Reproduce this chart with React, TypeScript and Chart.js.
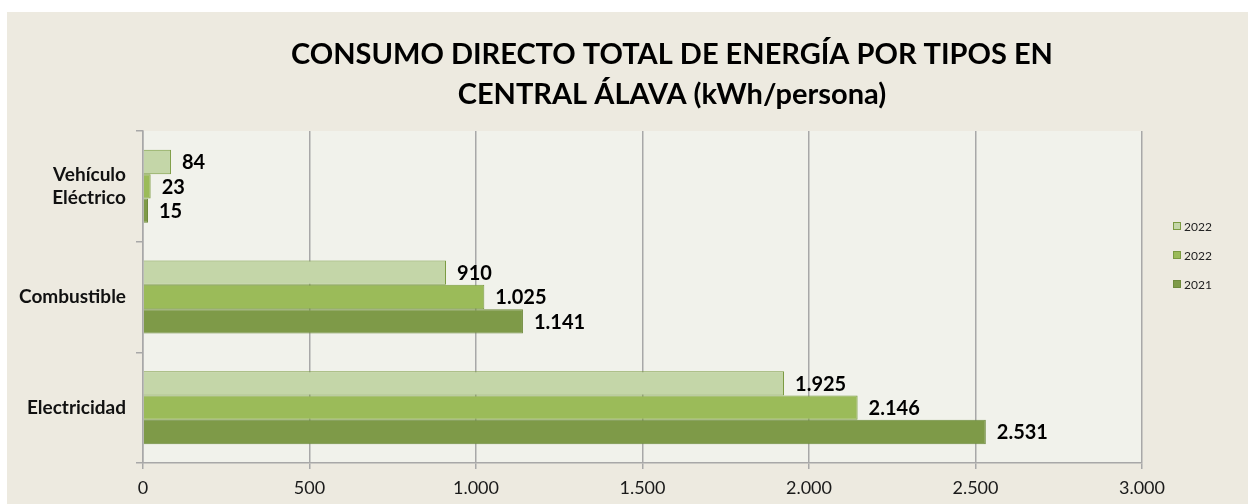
import React, { useEffect, useRef } from "react";
import { Chart, registerables } from "chart.js";

Chart.register(...registerables);

const categories: (string | string[])[] = [["Vehículo", "Eléctrico"], "Combustible", "Electricidad"];
const seriesLabels = ["2022", "2022", "2021"];
const seriesA = [84, 910, 1925];
const seriesB = [23, 1025, 2146];
const seriesC = [15, 1141, 2531];
const valueLabelsA = ["84", "910", "1.925"];
const valueLabelsB = ["23", "1.025", "2.146"];
const valueLabelsC = ["15", "1.141", "2.531"];
const xTickLabels = ["0", "500", "1.000", "1.500", "2.000", "2.500", "3.000"];
const titleLines = ["CONSUMO DIRECTO TOTAL DE ENERGÍA POR TIPOS EN", "CENTRAL ÁLAVA (kWh/persona)"];

const fills = ["#C4D6A8", "#9BBB59", "#7E9A48"];
const borders = ["#7A9A40", "#7A9A40", "#6E8A3C"];
const valueLabels = [valueLabelsA, valueLabelsB, valueLabelsC];

const FONT = "Lato, 'Open Sans', sans-serif";

export default function App() {
  const ref = useRef<HTMLCanvasElement | null>(null);
  useEffect(() => {
    if (!ref.current) return;
    const decor = {
      id: "decor",
      beforeDraw(chart: any) {
        const { ctx, chartArea } = chart;
        ctx.save();
        ctx.fillStyle = "#ffffff";
        ctx.fillRect(0, 0, chart.width, chart.height);
        ctx.fillStyle = "#EDEAE0";
        ctx.fillRect(7, 12, chart.width - 7, chart.height - 12);
        ctx.fillStyle = "#F1F2EB";
        ctx.fillRect(chartArea.left, chartArea.top, chartArea.right - chartArea.left, chartArea.bottom - chartArea.top);
        ctx.restore();
      },
      afterDatasetsDraw(chart: any) {
        const { ctx } = chart;
        ctx.save();
        ctx.font = `bold 20px ${FONT}`;
        ctx.fillStyle = "#000";
        ctx.textBaseline = "middle";
        ctx.textAlign = "left";
        chart.data.datasets.forEach((ds: any, di: number) => {
          const meta = chart.getDatasetMeta(di);
          meta.data.forEach((bar: any, i: number) => {
            ctx.fillText(valueLabels[di][i], bar.x + 11, bar.y + 1);
          });
        });
        ctx.restore();
      },
      afterDraw(chart: any) {
        const { ctx } = chart;
        ctx.save();
        ctx.font = `bold 29px ${FONT}`;
        ctx.fillStyle = "#000";
        ctx.textAlign = "center";
        ctx.textBaseline = "middle";
        ctx.fillText(titleLines[0], 672, 55);
        ctx.fillText(titleLines[1], 672, 95);
        // legend
        ctx.font = `12px ${FONT}`;
        ctx.textAlign = "left";
        seriesLabels.forEach((lab, i) => {
          const y = 226 + i * 29;
          ctx.fillStyle = fills[i];
          ctx.fillRect(1173, y - 4, 8, 8);
          ctx.strokeStyle = borders[i];
          ctx.lineWidth = 1;
          ctx.strokeRect(1173.5, y - 3.5, 7, 7);
          ctx.fillStyle = "#222";
          ctx.fillText(lab, 1184, y + 1);
        });
        ctx.restore();
      },
    };
    const chart = new Chart(ref.current, {
      type: "bar",
      data: {
        labels: categories,
        datasets: [seriesA, seriesB, seriesC].map((d, i) => ({
          label: seriesLabels[i],
          data: d,
          backgroundColor: fills[i],
          borderColor: borders[i],
          borderWidth: 1,
          categoryPercentage: 0.66,
          barPercentage: 1.0,
        })),
      },
      options: {
        indexAxis: "y",
        animation: false,
        responsive: false,
        layout: { padding: { left: 0, right: 106, top: 131, bottom: 0 } },
        plugins: {
          legend: { display: false },
          title: { display: false },
          tooltip: { enabled: false },
        },
        scales: {
          x: {
            min: 0,
            max: 3000,
            afterFit: (s: any) => { s.height = 41; },
            afterBuildTicks: (s: any) => {
              s.ticks = xTickLabels.map((_, i) => ({ value: i * 500 }));
            },
            ticks: {
              callback: (_v: any, i: number) => xTickLabels[i],
              font: { family: FONT, size: 18 },
              color: "#1a1a1a",
              padding: 8,
              maxRotation: 0,
            },
            grid: { color: "#A8A8A8", lineWidth: 1.5, tickLength: 6 },
            border: { color: "#A8A8A8", width: 1.5 },
          },
          y: {
            afterFit: (s: any) => { s.width = 143; },
            ticks: {
              font: { family: FONT, size: 19, weight: "bold" },
              color: "#111",
              padding: 10,
              lineHeight: 1.3,
            },
            grid: { display: true, drawOnChartArea: false, color: "#A8A8A8", lineWidth: 1.5, tickLength: 7, offset: true },
            border: { color: "#A8A8A8", width: 1.5 },
          },
        },
      },
      plugins: [decor],
    } as any);
    return () => chart.destroy();
  }, []);
  return (
    <div style={{ position: "absolute", left: 0, top: 0, width: 1248, height: 504 }}>
      <canvas ref={ref} width={1248} height={504} style={{ display: "block" }} />
    </div>
  );
}
